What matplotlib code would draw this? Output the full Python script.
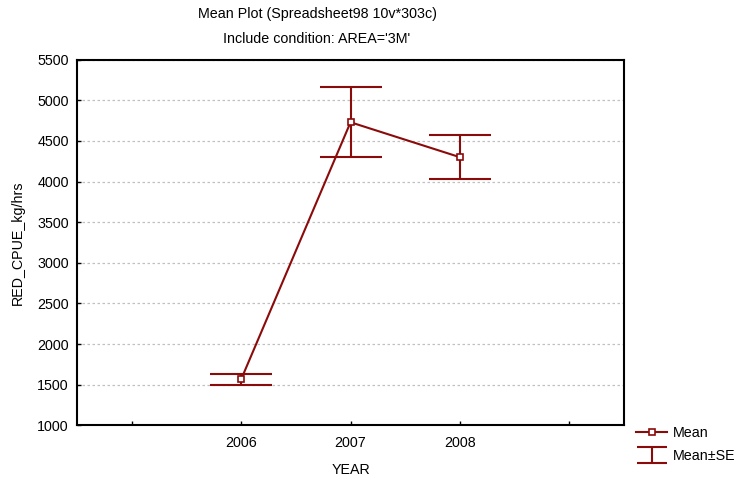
import matplotlib
matplotlib.use("Agg")
import matplotlib.pyplot as plt
from matplotlib.lines import Line2D
from matplotlib.path import Path

plt.rcParams['font.family'] = ['Liberation Sans', 'DejaVu Sans']

# data
years = ['2006', '2007', '2008']
means = [1565, 4730, 4300]
se = [72, 428, 272]

red = '#8b0a0a'
fs = 10.3

fig = plt.figure(figsize=(7.4, 4.87), dpi=100)
ax = fig.add_axes([0.1041, 0.1267, 0.7392, 0.7507])

x = [1, 2, 3]
ax.plot(x, means, color=red, lw=1.5, marker='s', markersize=5,
        markerfacecolor='white', markeredgecolor=red, markeredgewidth=1.2, zorder=4)
ax.errorbar(x, means, yerr=se, fmt='none', ecolor=red, elinewidth=1.5,
            capsize=22, capthick=1.5, zorder=3)

ax.set_xlim(-0.5, 4.5)
ax.set_ylim(1000, 5500)
ax.set_xticks([0, 1, 2, 3, 4])
ax.set_xticklabels([''] + years + [''])
ax.set_yticks(range(1000, 5501, 500))
ax.tick_params(direction='in', length=3, width=1, labelsize=fs, color='black')
ax.tick_params(axis='x', pad=8)
ax.tick_params(axis='y', pad=6)
ax.yaxis.grid(True, color='#c0c0c0', linestyle=(0, (2, 2)), lw=0.9)
ax.set_axisbelow(True)
for s in ax.spines.values():
    s.set_linewidth(1.5)

ax.set_xlabel('YEAR', fontsize=fs, labelpad=9)
ax.set_ylabel('RED_CPUE_kg/hrs', fontsize=fs, labelpad=9)

fig.text(317 / 740, 1 - 14 / 487, 'Mean Plot (Spreadsheet98 10v*303c)',
         ha='center', va='center', fontsize=fs)
fig.text(317 / 740, 1 - 39 / 487, "Include condition: AREA='3M'",
         ha='center', va='center', fontsize=fs)

# legend
ibeam = Path([(-1, 0.5), (1, 0.5), (0, 0.5), (0, -0.5), (-1, -0.5), (1, -0.5)],
             [Path.MOVETO, Path.LINETO, Path.MOVETO, Path.LINETO, Path.MOVETO, Path.LINETO])
h_mean = Line2D([], [], color=red, lw=1.5, marker='s', markersize=5,
                markerfacecolor='white', markeredgecolor=red, markeredgewidth=1.2)
h_se = Line2D([], [], color=red, lw=0, marker=ibeam, markersize=22,
              markeredgewidth=1.5, markeredgecolor=red)
fig.legend([h_mean, h_se], ['Mean', 'Mean±SE'], loc='upper left',
           bbox_to_anchor=(636 / 740, 1 - 426 / 487), frameon=False,
           fontsize=fs, handlelength=2.2, handletextpad=0.4,
           labelspacing=0.65, borderpad=0, borderaxespad=0)

fig.savefig('out.png', dpi=100)
